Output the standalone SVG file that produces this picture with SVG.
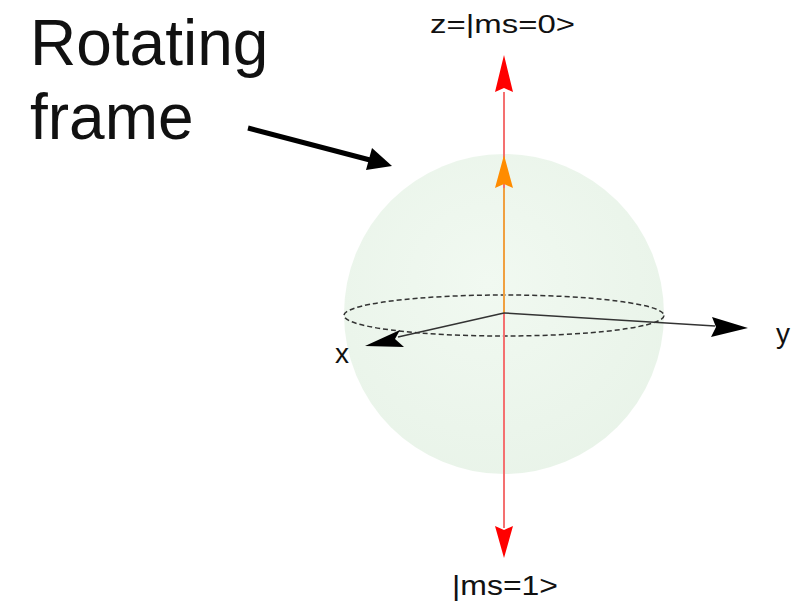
<svg xmlns="http://www.w3.org/2000/svg" width="804" height="607" viewBox="0 0 804 607">
<style>
text{font-family:"Liberation Sans",Arial,sans-serif;fill:#111}
.big{font-size:64px}
.ax{font-size:28px}
</style>
<defs>
<radialGradient id="sph" cx="0.45" cy="0.4" r="0.7">
<stop offset="0" stop-color="#f1f9f1"/>
<stop offset="1" stop-color="#e8f3e8"/>
</radialGradient>
</defs>
<rect width="804" height="607" fill="#fff"/>
<g id="sphere">
<circle cx="504" cy="314" r="160" fill="url(#sph)"/>
<ellipse cx="504" cy="315.5" rx="160" ry="20.5" fill="none" stroke="#333" stroke-width="1.5" stroke-dasharray="5,3"/>
</g>
<g id="connectors">
<line x1="504" y1="313" x2="504" y2="528" stroke="#f47070" stroke-width="2"/>
<line x1="504" y1="188" x2="504" y2="92" stroke="#f47070" stroke-width="2"/>
<line x1="504" y1="313" x2="504" y2="188" stroke="#f0a040" stroke-width="2"/>
<polygon points="504,55 513,92 504,88 495,92" fill="#ff0000"/>
<polygon points="504,155 513,188 504,184 495,188" fill="#ff8c00"/>
<polygon points="504,558 513,526 504,530 495,526" fill="#ff0000"/>
<line x1="504" y1="313" x2="715" y2="326" stroke="#333" stroke-width="1.5"/>
<polygon points="748,328 711,337 716,327 712,317" fill="#000"/>
<line x1="504" y1="313" x2="398" y2="337" stroke="#333" stroke-width="1.5"/>
<polygon points="365,346 400,330 395,339 404,347" fill="#000"/>
<line x1="248" y1="128" x2="370" y2="160" stroke="#000" stroke-width="5"/>
<polygon points="392,166 366,170 372,148" fill="#000"/>
</g>
<g id="labels">
<text x="430" y="33" font-size="25" textLength="145" lengthAdjust="spacingAndGlyphs">z=|ms=0&gt;</text>
<text x="452" y="595" font-size="28" textLength="106" lengthAdjust="spacingAndGlyphs">|ms=1&gt;</text>
<text class="ax" x="342" y="363" text-anchor="middle">x</text>
<text class="ax" x="783" y="343" text-anchor="middle">y</text>
<text class="big" x="30" y="65">Rotating</text>
<text class="big" x="30" y="139">frame</text>
</g>
</svg>
